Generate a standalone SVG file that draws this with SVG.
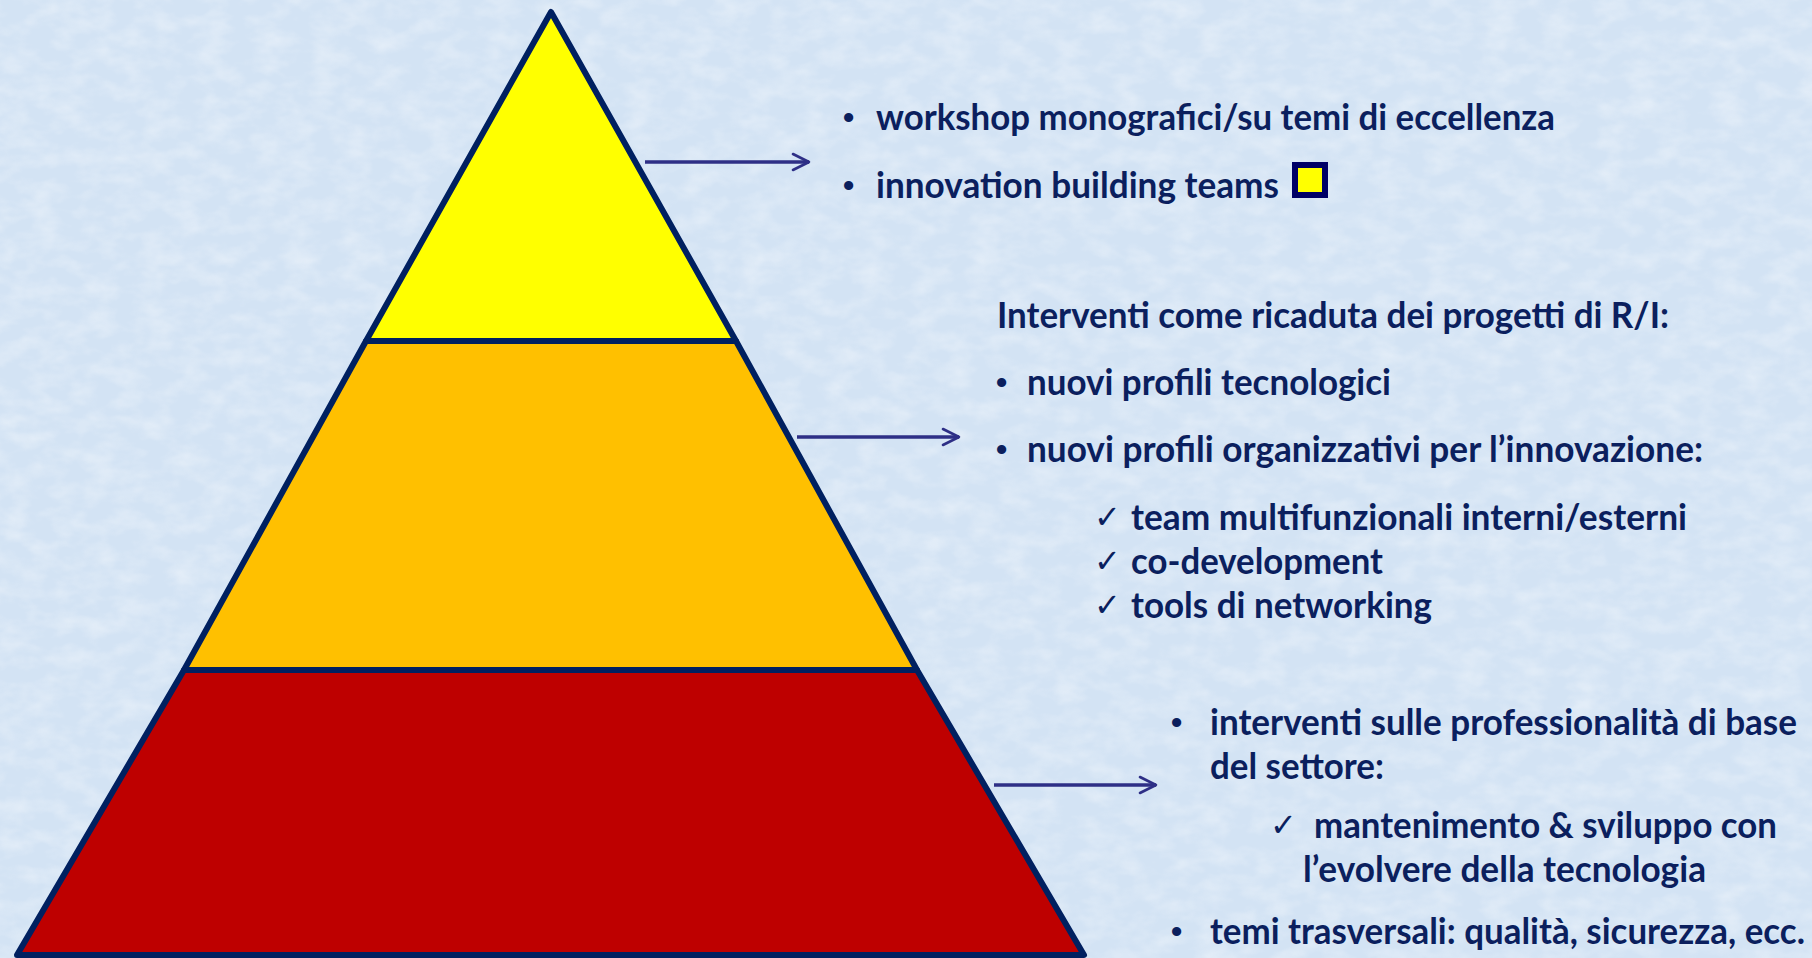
<svg xmlns="http://www.w3.org/2000/svg" width="1812" height="958" viewBox="0 0 1812 958">
<defs>
<style>
.lvl{stroke:#002060;stroke-width:6;stroke-linejoin:round}
.t{font-family:Lato,"Open Sans","Liberation Sans",sans-serif;font-weight:bold;font-size:37px;fill:#0B1F5E}
.b{font-family:"Liberation Sans",sans-serif;font-weight:bold;font-size:32px;fill:#0B1F5E}
.ck{font-family:"DejaVu Sans",sans-serif;font-weight:normal;font-size:32px;fill:#0B1F5E}
.conn{stroke:#2E2F86;stroke-width:3.5;fill:none;marker-end:url(#ah)}
</style>
<marker id="ah" viewBox="0 0 12 12" refX="11" refY="6" markerWidth="5.5" markerHeight="6" orient="auto" markerUnits="strokeWidth">
<path d="M1,1 L11,6 L1,11" fill="none" stroke="#2E2F86" stroke-width="1.6" stroke-linecap="round" stroke-linejoin="round"/>
</marker>
<filter id="tex" x="0" y="0" width="100%" height="100%">
<feTurbulence type="fractalNoise" baseFrequency="0.035 0.06" numOctaves="3" seed="4" result="n"/>
<feColorMatrix type="matrix" values="0 0 0 0 1  0 0 0 0 1  0 0 0 0 1  0 0 0 1.2 -0.45" in="n"/>
</filter>
</defs>
<rect width="1812" height="958" fill="#D3E3F4"/>
<rect width="1812" height="958" filter="url(#tex)" opacity="0.55"/>

<g id="level-bottom"><polygon class="lvl" fill="#BE0000" points="184,670 917,670 1084,955 17,955"/></g>
<g id="level-middle"><polygon class="lvl" fill="#FFC000" points="366,341 736,341 917,670 184,670"/></g>
<g id="level-top"><polygon class="lvl" fill="#FFFF00" points="551,12 736,341 366,341"/></g>

<g id="connectors">
<line class="conn" x1="645" y1="162" x2="809" y2="162"/>
<line class="conn" x1="797" y1="437" x2="959" y2="437"/>
<line class="conn" x1="994" y1="785" x2="1156" y2="785"/>
</g>

<g id="text-top">
<text class="b" x="843" y="128">•</text>
<text class="t" x="876" y="130" textLength="679" lengthAdjust="spacingAndGlyphs">workshop monografici/su temi di eccellenza</text>
<text class="b" x="843" y="196">•</text>
<text class="t" x="876" y="198" textLength="403" lengthAdjust="spacingAndGlyphs">innovation building teams</text>
<rect x="1295" y="165" width="30" height="30" fill="#FFFF00" stroke="#000066" stroke-width="6"/>
</g>

<g id="text-middle">
<text class="t" x="997" y="328" textLength="672" lengthAdjust="spacingAndGlyphs">Interventi come ricaduta dei progetti di R/I:</text>
<text class="b" x="996" y="393">•</text>
<text class="t" x="1027" y="395" textLength="364" lengthAdjust="spacingAndGlyphs">nuovi profili tecnologici</text>
<text class="b" x="996" y="460">•</text>
<text class="t" x="1027" y="462" textLength="676" lengthAdjust="spacingAndGlyphs">nuovi profili organizzativi per l’innovazione:</text>
<text class="ck" x="1094" y="528">✓</text>
<text class="t" x="1131" y="530" textLength="556" lengthAdjust="spacingAndGlyphs">team multifunzionali interni/esterni</text>
<text class="ck" x="1094" y="572">✓</text>
<text class="t" x="1131" y="574" textLength="252" lengthAdjust="spacingAndGlyphs">co-development</text>
<text class="ck" x="1094" y="616">✓</text>
<text class="t" x="1131" y="618" textLength="301" lengthAdjust="spacingAndGlyphs">tools di networking</text>
</g>

<g id="text-bottom">
<text class="b" x="1171" y="733">•</text>
<text class="t" x="1210" y="735" textLength="587" lengthAdjust="spacingAndGlyphs">interventi sulle professionalità di base</text>
<text class="t" x="1210" y="779" textLength="174" lengthAdjust="spacingAndGlyphs">del settore:</text>
<text class="ck" x="1270" y="836">✓</text>
<text class="t" x="1314" y="838" textLength="463" lengthAdjust="spacingAndGlyphs">mantenimento &amp; sviluppo con</text>
<text class="t" x="1303" y="882" textLength="403" lengthAdjust="spacingAndGlyphs">l’evolvere della tecnologia</text>
<text class="b" x="1171" y="942">•</text>
<text class="t" x="1210" y="944" textLength="595" lengthAdjust="spacingAndGlyphs">temi trasversali: qualità, sicurezza, ecc.</text>
</g>
</svg>
